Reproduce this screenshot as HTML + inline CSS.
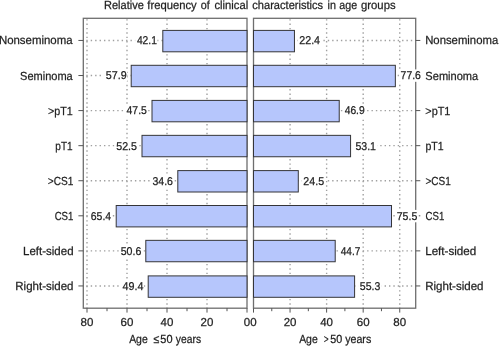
<!DOCTYPE html><html><head><meta charset="utf-8"><style>html,body{margin:0;padding:0;background:#fff;}svg{display:block;}text{text-rendering:geometricPrecision;font-family:"Liberation Sans", "DejaVu Sans", sans-serif;font-size:11.4px;fill:#1e1e1e;stroke:#222;stroke-width:0.25px;}text.b{font-size:11.75px;}text.v{font-size:11.3px;}</style></head><body>
<svg width="500" height="347" viewBox="0 0 500 347">
<rect width="500" height="347" fill="#fff"/>
<g>
<line x1="207.00" y1="19.20" x2="207.00" y2="308.20" stroke="#a0a0a0" stroke-width="1.40" stroke-dasharray="1.40 2.97"/>
<line x1="290.06" y1="19.20" x2="290.06" y2="308.20" stroke="#a0a0a0" stroke-width="1.40" stroke-dasharray="1.40 2.97"/>
<line x1="167.00" y1="19.20" x2="167.00" y2="308.20" stroke="#a0a0a0" stroke-width="1.40" stroke-dasharray="1.40 2.97"/>
<line x1="326.62" y1="19.20" x2="326.62" y2="308.20" stroke="#a0a0a0" stroke-width="1.40" stroke-dasharray="1.40 2.97"/>
<line x1="127.00" y1="19.20" x2="127.00" y2="308.20" stroke="#a0a0a0" stroke-width="1.40" stroke-dasharray="1.40 2.97"/>
<line x1="363.18" y1="19.20" x2="363.18" y2="308.20" stroke="#a0a0a0" stroke-width="1.40" stroke-dasharray="1.40 2.97"/>
<line x1="87.00" y1="19.20" x2="87.00" y2="308.20" stroke="#a0a0a0" stroke-width="1.40" stroke-dasharray="1.40 2.97"/>
<line x1="399.74" y1="19.20" x2="399.74" y2="308.20" stroke="#a0a0a0" stroke-width="1.40" stroke-dasharray="1.40 2.97"/>
<line x1="86.30" y1="40.45" x2="247.00" y2="40.45" stroke="#a0a0a0" stroke-width="1.40" stroke-dasharray="1.40 3.02"/>
<line x1="253.50" y1="40.45" x2="415.70" y2="40.45" stroke="#a0a0a0" stroke-width="1.40" stroke-dasharray="1.40 2.97"/>
<line x1="86.30" y1="75.52" x2="247.00" y2="75.52" stroke="#a0a0a0" stroke-width="1.40" stroke-dasharray="1.40 3.02"/>
<line x1="253.50" y1="75.52" x2="415.70" y2="75.52" stroke="#a0a0a0" stroke-width="1.40" stroke-dasharray="1.40 2.97"/>
<line x1="86.30" y1="110.59" x2="247.00" y2="110.59" stroke="#a0a0a0" stroke-width="1.40" stroke-dasharray="1.40 3.02"/>
<line x1="253.50" y1="110.59" x2="415.70" y2="110.59" stroke="#a0a0a0" stroke-width="1.40" stroke-dasharray="1.40 2.97"/>
<line x1="86.30" y1="145.66" x2="247.00" y2="145.66" stroke="#a0a0a0" stroke-width="1.40" stroke-dasharray="1.40 3.02"/>
<line x1="253.50" y1="145.66" x2="415.70" y2="145.66" stroke="#a0a0a0" stroke-width="1.40" stroke-dasharray="1.40 2.97"/>
<line x1="86.30" y1="180.73" x2="247.00" y2="180.73" stroke="#a0a0a0" stroke-width="1.40" stroke-dasharray="1.40 3.02"/>
<line x1="253.50" y1="180.73" x2="415.70" y2="180.73" stroke="#a0a0a0" stroke-width="1.40" stroke-dasharray="1.40 2.97"/>
<line x1="86.30" y1="215.80" x2="247.00" y2="215.80" stroke="#a0a0a0" stroke-width="1.40" stroke-dasharray="1.40 3.02"/>
<line x1="253.50" y1="215.80" x2="415.70" y2="215.80" stroke="#a0a0a0" stroke-width="1.40" stroke-dasharray="1.40 2.97"/>
<line x1="86.30" y1="250.87" x2="247.00" y2="250.87" stroke="#a0a0a0" stroke-width="1.40" stroke-dasharray="1.40 3.02"/>
<line x1="253.50" y1="250.87" x2="415.70" y2="250.87" stroke="#a0a0a0" stroke-width="1.40" stroke-dasharray="1.40 2.97"/>
<line x1="86.30" y1="285.94" x2="247.00" y2="285.94" stroke="#a0a0a0" stroke-width="1.40" stroke-dasharray="1.40 3.02"/>
<line x1="253.50" y1="285.94" x2="415.70" y2="285.94" stroke="#a0a0a0" stroke-width="1.40" stroke-dasharray="1.40 2.97"/>
<rect x="83.30" y="18.30" width="163.70" height="289.90" fill="none" stroke="#6e6e6e" stroke-width="1.30"/>
<rect x="253.50" y="18.30" width="162.20" height="289.90" fill="none" stroke="#6e6e6e" stroke-width="1.30"/>
<line x1="78.40" y1="40.45" x2="83.30" y2="40.45" stroke="#555555" stroke-width="1"/>
<line x1="415.70" y1="40.45" x2="420.30" y2="40.45" stroke="#555555" stroke-width="1"/>
<line x1="78.40" y1="75.52" x2="83.30" y2="75.52" stroke="#555555" stroke-width="1"/>
<line x1="415.70" y1="75.52" x2="420.30" y2="75.52" stroke="#555555" stroke-width="1"/>
<line x1="78.40" y1="110.59" x2="83.30" y2="110.59" stroke="#555555" stroke-width="1"/>
<line x1="415.70" y1="110.59" x2="420.30" y2="110.59" stroke="#555555" stroke-width="1"/>
<line x1="78.40" y1="145.66" x2="83.30" y2="145.66" stroke="#555555" stroke-width="1"/>
<line x1="415.70" y1="145.66" x2="420.30" y2="145.66" stroke="#555555" stroke-width="1"/>
<line x1="78.40" y1="180.73" x2="83.30" y2="180.73" stroke="#555555" stroke-width="1"/>
<line x1="415.70" y1="180.73" x2="420.30" y2="180.73" stroke="#555555" stroke-width="1"/>
<line x1="78.40" y1="215.80" x2="83.30" y2="215.80" stroke="#555555" stroke-width="1"/>
<line x1="415.70" y1="215.80" x2="420.30" y2="215.80" stroke="#555555" stroke-width="1"/>
<line x1="78.40" y1="250.87" x2="83.30" y2="250.87" stroke="#555555" stroke-width="1"/>
<line x1="415.70" y1="250.87" x2="420.30" y2="250.87" stroke="#555555" stroke-width="1"/>
<line x1="78.40" y1="285.94" x2="83.30" y2="285.94" stroke="#555555" stroke-width="1"/>
<line x1="415.70" y1="285.94" x2="420.30" y2="285.94" stroke="#555555" stroke-width="1"/>
<line x1="247.00" y1="308.20" x2="247.00" y2="312.60" stroke="#555555" stroke-width="1"/>
<line x1="253.50" y1="308.20" x2="253.50" y2="312.60" stroke="#555555" stroke-width="1"/>
<line x1="227.00" y1="308.20" x2="227.00" y2="311.20" stroke="#555555" stroke-width="1"/>
<line x1="271.78" y1="308.20" x2="271.78" y2="311.20" stroke="#555555" stroke-width="1"/>
<line x1="207.00" y1="308.20" x2="207.00" y2="312.60" stroke="#555555" stroke-width="1"/>
<line x1="290.06" y1="308.20" x2="290.06" y2="312.60" stroke="#555555" stroke-width="1"/>
<line x1="187.00" y1="308.20" x2="187.00" y2="311.20" stroke="#555555" stroke-width="1"/>
<line x1="308.34" y1="308.20" x2="308.34" y2="311.20" stroke="#555555" stroke-width="1"/>
<line x1="167.00" y1="308.20" x2="167.00" y2="312.60" stroke="#555555" stroke-width="1"/>
<line x1="326.62" y1="308.20" x2="326.62" y2="312.60" stroke="#555555" stroke-width="1"/>
<line x1="147.00" y1="308.20" x2="147.00" y2="311.20" stroke="#555555" stroke-width="1"/>
<line x1="344.90" y1="308.20" x2="344.90" y2="311.20" stroke="#555555" stroke-width="1"/>
<line x1="127.00" y1="308.20" x2="127.00" y2="312.60" stroke="#555555" stroke-width="1"/>
<line x1="363.18" y1="308.20" x2="363.18" y2="312.60" stroke="#555555" stroke-width="1"/>
<line x1="107.00" y1="308.20" x2="107.00" y2="311.20" stroke="#555555" stroke-width="1"/>
<line x1="381.46" y1="308.20" x2="381.46" y2="311.20" stroke="#555555" stroke-width="1"/>
<line x1="87.00" y1="308.20" x2="87.00" y2="312.60" stroke="#555555" stroke-width="1"/>
<line x1="399.74" y1="308.20" x2="399.74" y2="312.60" stroke="#555555" stroke-width="1"/>
<rect x="162.80" y="30.40" width="84.20" height="21.40" fill="#b6c6fc" stroke="#353538" stroke-width="1"/>
<rect x="253.50" y="30.40" width="40.95" height="21.40" fill="#b6c6fc" stroke="#353538" stroke-width="1"/>
<rect x="131.20" y="65.30" width="115.80" height="21.40" fill="#b6c6fc" stroke="#353538" stroke-width="1"/>
<rect x="253.50" y="65.30" width="141.85" height="21.40" fill="#b6c6fc" stroke="#353538" stroke-width="1"/>
<rect x="152.00" y="100.40" width="95.00" height="21.40" fill="#b6c6fc" stroke="#353538" stroke-width="1"/>
<rect x="253.50" y="100.40" width="85.73" height="21.40" fill="#b6c6fc" stroke="#353538" stroke-width="1"/>
<rect x="142.00" y="135.35" width="105.00" height="21.40" fill="#b6c6fc" stroke="#353538" stroke-width="1"/>
<rect x="253.50" y="135.35" width="97.07" height="21.40" fill="#b6c6fc" stroke="#353538" stroke-width="1"/>
<rect x="177.80" y="170.60" width="69.20" height="21.40" fill="#b6c6fc" stroke="#353538" stroke-width="1"/>
<rect x="253.50" y="170.60" width="44.79" height="21.40" fill="#b6c6fc" stroke="#353538" stroke-width="1"/>
<rect x="116.20" y="205.50" width="130.80" height="21.40" fill="#b6c6fc" stroke="#353538" stroke-width="1"/>
<rect x="253.50" y="205.50" width="138.01" height="21.40" fill="#b6c6fc" stroke="#353538" stroke-width="1"/>
<rect x="145.80" y="240.35" width="101.20" height="21.40" fill="#b6c6fc" stroke="#353538" stroke-width="1"/>
<rect x="253.50" y="240.35" width="81.71" height="21.40" fill="#b6c6fc" stroke="#353538" stroke-width="1"/>
<rect x="148.20" y="275.90" width="98.80" height="21.40" fill="#b6c6fc" stroke="#353538" stroke-width="1"/>
<rect x="253.50" y="275.90" width="101.09" height="21.40" fill="#b6c6fc" stroke="#353538" stroke-width="1"/>
</g>
<rect x="135.19" y="34.30" width="22.22" height="12.40" fill="#fff"/>
<text class="v" x="156.91" y="44.20" text-anchor="end" textLength="20.02" lengthAdjust="spacingAndGlyphs">42.1</text>
<rect x="297.54" y="34.30" width="24.03" height="12.40" fill="#fff"/>
<text class="v" x="299.24" y="44.20" textLength="20.83" lengthAdjust="spacingAndGlyphs">22.4</text>
<rect x="104.07" y="69.42" width="23.03" height="12.40" fill="#fff"/>
<text class="v" x="126.60" y="79.32" text-anchor="end" textLength="20.83" lengthAdjust="spacingAndGlyphs">57.9</text>
<rect x="398.92" y="69.42" width="23.52" height="12.40" fill="#fff"/>
<text class="v" x="400.62" y="79.32" textLength="20.32" lengthAdjust="spacingAndGlyphs">77.6</text>
<rect x="124.83" y="104.54" width="22.52" height="12.40" fill="#fff"/>
<text class="v" x="146.86" y="114.44" text-anchor="end" textLength="20.32" lengthAdjust="spacingAndGlyphs">47.5</text>
<rect x="342.99" y="104.54" width="23.21" height="12.40" fill="#fff"/>
<text class="v" x="344.69" y="114.44" textLength="20.01" lengthAdjust="spacingAndGlyphs">46.9</text>
<rect x="114.56" y="139.66" width="22.94" height="12.40" fill="#fff"/>
<text class="v" x="137.00" y="149.56" text-anchor="end" textLength="20.74" lengthAdjust="spacingAndGlyphs">52.5</text>
<rect x="353.71" y="139.66" width="23.78" height="12.40" fill="#fff"/>
<text class="v" x="355.41" y="149.56" textLength="20.58" lengthAdjust="spacingAndGlyphs">53.1</text>
<rect x="150.70" y="174.78" width="22.75" height="12.40" fill="#fff"/>
<text class="v" x="172.95" y="184.68" text-anchor="end" textLength="20.55" lengthAdjust="spacingAndGlyphs">34.6</text>
<rect x="301.67" y="174.78" width="23.94" height="12.40" fill="#fff"/>
<text class="v" x="303.37" y="184.68" textLength="20.74" lengthAdjust="spacingAndGlyphs">24.5</text>
<rect x="89.10" y="209.90" width="22.60" height="12.40" fill="#fff"/>
<text class="v" x="111.20" y="219.80" text-anchor="end" textLength="20.40" lengthAdjust="spacingAndGlyphs">65.4</text>
<rect x="395.03" y="209.90" width="23.76" height="12.40" fill="#fff"/>
<text class="v" x="396.73" y="219.80" textLength="20.56" lengthAdjust="spacingAndGlyphs">75.5</text>
<rect x="118.99" y="245.02" width="22.84" height="12.40" fill="#fff"/>
<text class="v" x="141.33" y="254.92" text-anchor="end" textLength="20.64" lengthAdjust="spacingAndGlyphs">50.6</text>
<rect x="338.96" y="245.02" width="22.89" height="12.40" fill="#fff"/>
<text class="v" x="340.66" y="254.92" textLength="19.69" lengthAdjust="spacingAndGlyphs">44.7</text>
<rect x="120.92" y="280.14" width="23.08" height="12.40" fill="#fff"/>
<text class="v" x="143.49" y="290.04" text-anchor="end" textLength="20.88" lengthAdjust="spacingAndGlyphs">49.4</text>
<rect x="358.09" y="280.14" width="23.70" height="12.40" fill="#fff"/>
<text class="v" x="359.79" y="290.04" textLength="20.50" lengthAdjust="spacingAndGlyphs">55.3</text>
<text class="b" x="72.57" y="44.40" text-anchor="end" textLength="73.67" lengthAdjust="spacingAndGlyphs">Nonseminoma</text>
<text class="b" x="425.19" y="44.40" textLength="73.01" lengthAdjust="spacingAndGlyphs">Nonseminoma</text>
<text class="b" x="72.73" y="79.52" text-anchor="end" textLength="52.67" lengthAdjust="spacingAndGlyphs">Seminoma</text>
<text class="b" x="425.37" y="79.52" textLength="52.87" lengthAdjust="spacingAndGlyphs">Seminoma</text>
<text class="b" x="72.74" y="114.64" text-anchor="end" textLength="24.70" lengthAdjust="spacingAndGlyphs">&gt;pT1</text>
<text class="b" x="425.36" y="114.64" textLength="25.05" lengthAdjust="spacingAndGlyphs">&gt;pT1</text>
<text class="b" x="72.58" y="149.76" text-anchor="end" textLength="17.23" lengthAdjust="spacingAndGlyphs">pT1</text>
<text class="b" x="425.45" y="149.76" textLength="18.12" lengthAdjust="spacingAndGlyphs">pT1</text>
<text class="b" x="73.45" y="184.88" text-anchor="end" textLength="25.61" lengthAdjust="spacingAndGlyphs">&gt;CS1</text>
<text class="b" x="425.53" y="184.88" textLength="25.35" lengthAdjust="spacingAndGlyphs">&gt;CS1</text>
<text class="b" x="73.42" y="220.00" text-anchor="end" textLength="18.75" lengthAdjust="spacingAndGlyphs">CS1</text>
<text class="b" x="425.59" y="220.00" textLength="18.71" lengthAdjust="spacingAndGlyphs">CS1</text>
<text class="b" x="73.53" y="255.12" text-anchor="end" textLength="50.45" lengthAdjust="spacingAndGlyphs">Left-sided</text>
<text class="b" x="425.18" y="255.12" textLength="51.09" lengthAdjust="spacingAndGlyphs">Left-sided</text>
<text class="b" x="73.53" y="290.24" text-anchor="end" textLength="58.22" lengthAdjust="spacingAndGlyphs">Right-sided</text>
<text class="b" x="425.15" y="290.24" textLength="58.41" lengthAdjust="spacingAndGlyphs">Right-sided</text>
<text x="247.00" y="325.9" text-anchor="middle" style="font-size:11.5px">0</text>
<text x="253.50" y="325.9" text-anchor="middle" style="font-size:11.5px">0</text>
<text x="207.00" y="325.9" text-anchor="middle" style="font-size:11.5px">20</text>
<text x="290.06" y="325.9" text-anchor="middle" style="font-size:11.5px">20</text>
<text x="167.00" y="325.9" text-anchor="middle" style="font-size:11.5px">40</text>
<text x="326.62" y="325.9" text-anchor="middle" style="font-size:11.5px">40</text>
<text x="127.00" y="325.9" text-anchor="middle" style="font-size:11.5px">60</text>
<text x="363.18" y="325.9" text-anchor="middle" style="font-size:11.5px">60</text>
<text x="87.00" y="325.9" text-anchor="middle" style="font-size:11.5px">80</text>
<text x="399.74" y="325.9" text-anchor="middle" style="font-size:11.5px">80</text>
<text class="b" x="129.13" y="343.3" textLength="18.62" lengthAdjust="spacingAndGlyphs">Age</text>
<text class="b" x="153.53" y="343.3" textLength="5.80" lengthAdjust="spacingAndGlyphs">≤</text>
<text class="b" x="160.37" y="343.3" textLength="12.18" lengthAdjust="spacingAndGlyphs">50</text>
<text class="b" x="175.85" y="343.3" textLength="25.21" lengthAdjust="spacingAndGlyphs">years</text>
<text class="b" x="299.13" y="343.3" textLength="18.62" lengthAdjust="spacingAndGlyphs">Age</text>
<text class="b" x="323.74" y="343.3" textLength="4.83" lengthAdjust="spacingAndGlyphs">&gt;</text>
<text class="b" x="330.23" y="343.3" textLength="11.95" lengthAdjust="spacingAndGlyphs">50</text>
<text class="b" x="345.15" y="343.3" textLength="26.10" lengthAdjust="spacingAndGlyphs">years</text>
<text class="b" x="104.03" y="9" textLength="39.85" lengthAdjust="spacingAndGlyphs">Relative</text>
<text class="b" x="147.30" y="9" textLength="49.39" lengthAdjust="spacingAndGlyphs">frequency</text>
<text class="b" x="200.68" y="9" textLength="8.99" lengthAdjust="spacingAndGlyphs">of</text>
<text class="b" x="214.45" y="9" textLength="33.74" lengthAdjust="spacingAndGlyphs">clinical</text>
<text class="b" x="252.30" y="9" textLength="70.80" lengthAdjust="spacingAndGlyphs">characteristics</text>
<text class="b" x="327.52" y="9" textLength="8.40" lengthAdjust="spacingAndGlyphs">in</text>
<text class="b" x="339.36" y="9" textLength="17.81" lengthAdjust="spacingAndGlyphs">age</text>
<text class="b" x="361.04" y="9" textLength="34.56" lengthAdjust="spacingAndGlyphs">groups</text>
</svg></body></html>
